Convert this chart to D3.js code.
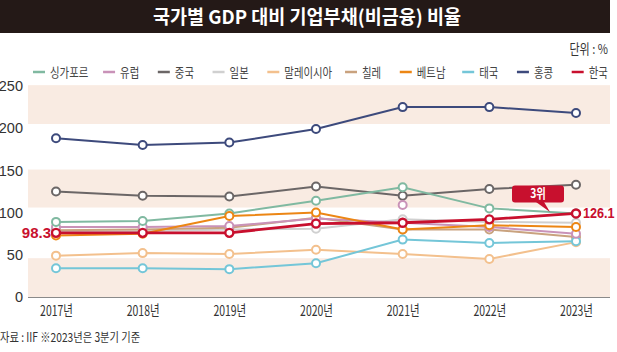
<!DOCTYPE html>
<html>
<head>
<meta charset="utf-8">
<script src="https://cdn.jsdelivr.net/npm/d3@7"></script>
<style>
  html, body { margin: 0; padding: 0; background: #ffffff; }
  #chart { width: 617px; height: 352px; }
</style>
</head>
<body>
<div id="chart"></div>
<script>
// ---- data ----
const years = ["2017", "2018", "2019", "2020", "2021", "2022", "2023"];
const yTicks = [0, 50, 100, 150, 200, 250];
const shadedBands = [[205, 251], [106, 151], [0, 46]];

const seriesNames = ["싱가포르", "유럽", "중국", "일본", "말레이시아", "칠레", "베트남", "태국", "홍콩", "한국"];

const singapore = [89, 90, 99, 114, 130, 105, 99];
const europe    = [83, 83, 84, 93, 88, 83, 75];
const china     = [125, 120, 119, 131, 120, 128, 133];
const japan     = [77, 78, 80, 81, 92, 89, 88];
const malaysia  = [49, 52, 51, 56, 51, 45, 65];
const chile     = [79, 80, 82, 94, 80, 80, 71];
const vietnam   = [73, 75, 96, 100, 80, 85, 83];
const thailand  = [34, 34, 33, 40, 68, 64, 66];
const hongkong  = [188, 180, 183, 199, 225, 225, 218];
const korea     = [76, 76, 76, 87, 88, 92, 99];

// a loose 유럽 marker in 2021 with no line through it
const europeExtraMarkers = [{ year: "2021", value: 109 }];

const titleText = "국가별 GDP 대비 기업부채(비금융) 비율";
const unitText = "단위 : %";
const sourceText = "자료 : IIF ※2023년은 3분기 기준";
const koreaFirstLabel = "98.3";
const koreaLastLabel = "126.1";
const rankLabel = "3위";

function makeChart(containerSelector) {
    // Block 1: styles
    const colors = {
        "싱가포르": "#80b9a1",
        "유럽": "#c992b8",
        "중국": "#6b6666",
        "일본": "#d0d0d0",
        "말레이시아": "#f3c08d",
        "칠레": "#c9a27e",
        "베트남": "#ec8614",
        "태국": "#74c6d8",
        "홍콩": "#3d4a7c",
        "한국": "#c8102e"
    };
    const krFont = "'Noto Sans CJK KR', 'Noto Sans', sans-serif";
    const numFont = "'Liberation Sans Narrow', 'Arial Narrow', 'Liberation Sans', sans-serif";
    const textColor = "#333333";
    const bandColor = "#f9ebe2";

    // condense text the way the newspaper font does
    function squeeze(sel, factor) {
        sel.each(function() {
            const w = this.getComputedTextLength();
            d3.select(this).attr("textLength", w * factor).attr("lengthAdjust", "spacingAndGlyphs");
        });
    }

    const width = 617, height = 352;
    const svg = d3.select(containerSelector).append("svg")
        .attr("width", width)
        .attr("height", height)
        .attr("xmlns", "http://www.w3.org/2000/svg");

    // Block 2: header
    svg.append("rect")
        .attr("x", 0).attr("y", 0)
        .attr("width", 610).attr("height", 33)
        .attr("fill", "#241917");

    svg.append("text")
        .attr("x", 307).attr("y", 24)
        .attr("text-anchor", "middle")
        .style("font-family", krFont)
        .style("font-size", "19px")
        .style("font-weight", "700")
        .style("fill", "#ffffff")
        .attr("textLength", 308)
        .attr("lengthAdjust", "spacingAndGlyphs")
        .text(titleText);

    svg.append("text")
        .attr("x", 608).attr("y", 54)
        .attr("text-anchor", "end")
        .style("font-family", krFont)
        .style("font-size", "13.5px")
        .style("fill", textColor)
        .text(unitText)
        .call(squeeze, 0.82);

    // Block 3: series table
    const valuesByName = {
        "싱가포르": singapore, "유럽": europe, "중국": china, "일본": japan,
        "말레이시아": malaysia, "칠레": chile, "베트남": vietnam, "태국": thailand,
        "홍콩": hongkong, "한국": korea
    };
    const seriesList = seriesNames.map(name => ({
        name: name,
        points: years.map((y, i) => ({ year: y, value: valuesByName[name][i] }))
    }));

    // Block 4: legend (sequential layout spread between 33 and 604)
    const legendY = 72;
    const legend = svg.append("g").attr("class", "legend");
    const items = seriesNames.map(name => {
        const g = legend.append("g");
        g.append("line")
            .attr("x1", 0).attr("x2", 12)
            .attr("y1", legendY).attr("y2", legendY)
            .attr("stroke", colors[name])
            .attr("stroke-width", 2.5);
        const t = g.append("text")
            .attr("x", 17).attr("y", legendY + 4.5)
            .style("font-family", krFont)
            .style("font-size", "13px")
            .style("fill", "#444444")
            .text(name)
            .call(squeeze, 0.8);
        return { g: g, w: 17 + t.node().getComputedTextLength() * 0.8 };
    });
    const legendStart = 33, legendEnd = 604;
    const totalW = d3.sum(items, d => d.w);
    const gap = (legendEnd - legendStart - totalW) / (items.length - 1);
    let lx = legendStart;
    items.forEach(it => {
        it.g.attr("transform", `translate(${lx},0)`);
        lx += it.w + gap;
    });

    // Block 5: scales
    const plotLeft = 28, plotRight = 610;
    const xScale = d3.scalePoint().domain(years).range([56, 576]);
    const yScale = d3.scaleLinear().domain([0, 250]).range([297, 86]);

    // Block 6: background bands, axes
    svg.append("g").selectAll("rect")
        .data(shadedBands)
        .enter().append("rect")
        .attr("x", plotLeft)
        .attr("width", plotRight - plotLeft)
        .attr("y", d => yScale(d[1]))
        .attr("height", d => yScale(d[0]) - yScale(d[1]))
        .attr("fill", bandColor);

    const yAxis = svg.append("g")
        .attr("transform", `translate(${plotLeft},0)`)
        .call(d3.axisLeft(yScale).tickValues(yTicks).tickSize(0).tickPadding(5));
    yAxis.select(".domain").remove();
    yAxis.selectAll("text")
        .style("font-family", numFont)
        .style("font-size", "14.5px")
        .style("fill", textColor);

    const xAxis = svg.append("g")
        .attr("transform", `translate(0,${yScale(0)})`)
        .call(d3.axisBottom(xScale).tickSize(0).tickPadding(9).tickFormat(d => d + "년"));
    xAxis.select(".domain")
        .attr("d", `M${plotLeft},0.5H${plotRight}`)
        .attr("stroke", "#8a8a8a")
        .attr("stroke-width", 1.2);
    xAxis.selectAll("text")
        .style("font-family", krFont)
        .style("font-size", "14.5px")
        .style("fill", textColor)
        .call(squeeze, 0.72);

    // Block 7: lines and markers
    const line = d3.line().x(d => xScale(d.year)).y(d => yScale(d.value));
    const drawOrder = ["홍콩", "중국", "일본", "칠레", "말레이시아", "태국", "유럽", "싱가포르", "베트남", "한국"];
    const seriesGroup = svg.append("g");
    drawOrder.forEach(name => {
        const s = seriesList.find(d => d.name === name);
        const isKorea = name === "한국";
        const g = seriesGroup.append("g");
        g.append("path")
            .datum(s.points)
            .attr("d", line)
            .attr("fill", "none")
            .attr("stroke", colors[name])
            .attr("stroke-width", isKorea ? 2.8 : 2);
        g.selectAll("circle")
            .data(name === "유럽" ? s.points.concat(europeExtraMarkers) : s.points)
            .enter().append("circle")
            .attr("cx", d => xScale(d.year))
            .attr("cy", d => yScale(d.value))
            .attr("r", 4)
            .attr("fill", "#ffffff")
            .attr("stroke", colors[name])
            .attr("stroke-width", isKorea ? 2.4 : 2);
    });

    // Block 8: annotations
    const kFirst = { x: xScale(years[0]), y: yScale(korea[0]) };
    const kLast = { x: xScale(years[years.length - 1]), y: yScale(korea[korea.length - 1]) };

    svg.append("text")
        .attr("x", kFirst.x - 5).attr("y", kFirst.y + 5.5)
        .attr("text-anchor", "end")
        .style("font-family", numFont)
        .style("font-size", "15px")
        .style("font-weight", "700")
        .style("fill", colors["한국"])
        .text(koreaFirstLabel);

    svg.append("text")
        .attr("x", kLast.x + 7).attr("y", kLast.y + 5)
        .style("font-family", numFont)
        .style("font-size", "14px")
        .style("font-weight", "700")
        .style("fill", colors["한국"])
        .text(koreaLastLabel)
        .call(squeeze, 0.9);

    const call = svg.append("g");
    call.append("rect")
        .attr("x", kLast.x - 64).attr("y", kLast.y - 28)
        .attr("width", 52).attr("height", 17)
        .attr("rx", 3)
        .attr("fill", colors["한국"]);
    call.append("path")
        .attr("d", `M${kLast.x - 40},${kLast.y - 11.5}L${kLast.x - 32},${kLast.y - 11.5}L${kLast.x - 26},${kLast.y - 1.5}Z`)
        .attr("fill", colors["한국"]);
    call.append("text")
        .attr("x", kLast.x - 38).attr("y", kLast.y - 15)
        .attr("text-anchor", "middle")
        .style("font-family", krFont)
        .style("font-size", "13px")
        .style("font-weight", "700")
        .style("fill", "#ffffff")
        .text(rankLabel)
        .call(squeeze, 0.8);

    // Block 9: source note
    svg.append("text")
        .attr("x", 0).attr("y", 342)
        .style("font-family", krFont)
        .style("font-size", "12.5px")
        .style("fill", textColor)
        .text(sourceText)
        .call(squeeze, 0.82);

    return svg.node();
}

makeChart("#chart");
</script>
</body>
</html>
